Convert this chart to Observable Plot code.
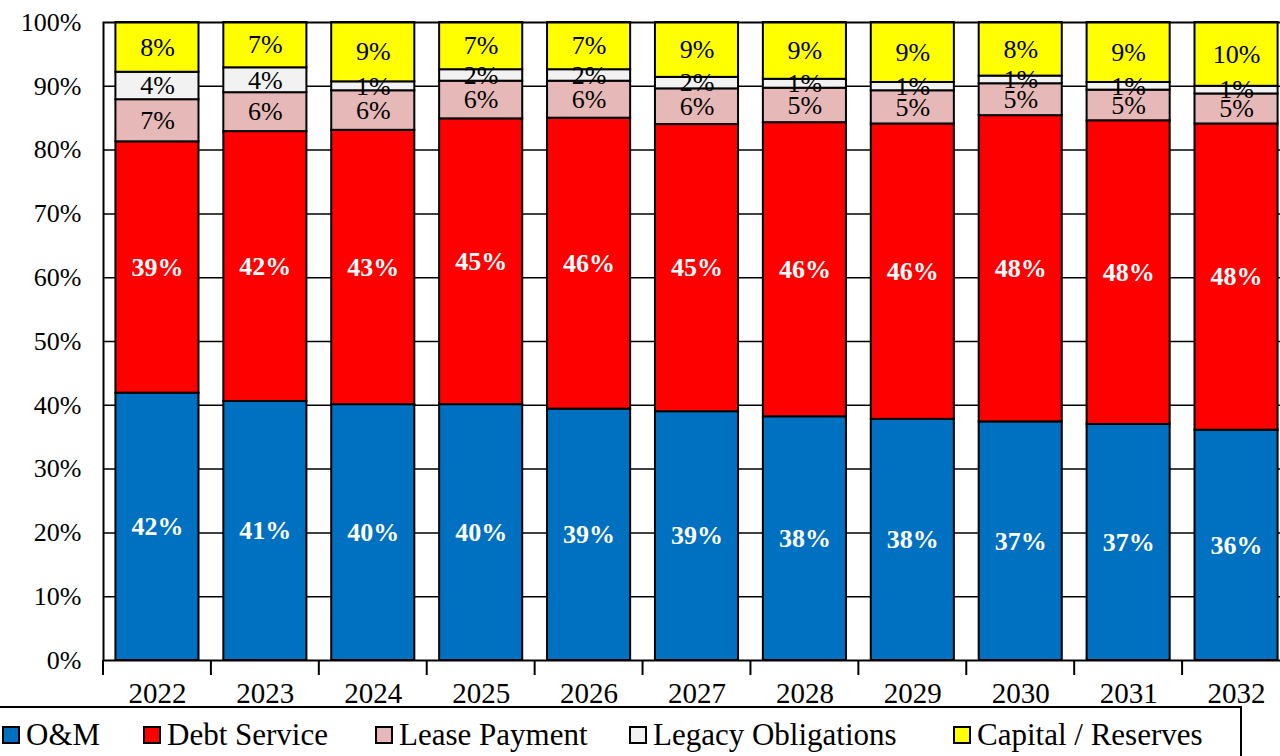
<!DOCTYPE html>
<html><head><meta charset="utf-8">
<script src="https://cdn.jsdelivr.net/npm/d3@7"></script>
<script src="https://cdn.jsdelivr.net/npm/@observablehq/plot@0.6"></script>
<style>
html,body{margin:0;padding:0;background:#fff;overflow:hidden;width:1280px;height:756px;}
#wrap{position:relative;width:1280px;height:756px;overflow:hidden;font-family:"Liberation Serif","Times New Roman",serif;}
#chart{position:absolute;left:0;top:0;width:1292px;}
#chart svg{max-width:none !important;width:1292px !important;height:712px !important;}
#chart svg, #chart svg text{font-family:"Liberation Serif","Times New Roman",serif !important;}
#legend{position:absolute;left:-10px;top:706px;width:1252px;height:80px;border:2px solid #000;box-sizing:border-box;}
.item{position:absolute;top:9px;display:flex;align-items:center;font-size:31px;color:#000;white-space:nowrap;}
.sw{width:14px;height:14px;border:2px solid #000;margin-right:6px;flex:none;}
</style></head>
<body><div id="wrap"><div id="chart"></div><div id="legend"></div></div>
<script>
const years = ["2022","2023","2024","2025","2026","2027","2028","2029","2030","2031","2032"];
const series = ["O&M","Debt Service","Lease Payment","Legacy Obligations","Capital / Reserves"];
const colors = ["#0070C0","#FF0000","#E6B8B7","#F2F2F2","#FFFF00"];
const om      = [41.9,40.6,40.1,40.1,39.4,39.0,38.2,37.8,37.4,37.0,36.1];
const debt    = [39.4,42.3,43.0,44.8,45.6,45.0,46.1,46.3,48.0,47.6,48.0];
const lease   = [6.6,6.1,6.2,5.9,5.8,5.6,5.4,5.2,5.0,4.8,4.7];
const legacy  = [4.3,3.9,1.4,1.8,1.8,1.8,1.4,1.3,1.2,1.2,1.2];
const capital = [7.8,7.1,9.3,7.4,7.4,8.6,8.9,9.4,8.4,9.4,10.0];
const yTicks = [0,10,20,30,40,50,60,70,80,90,100];
const legendLeft = [10,151,383,637,961];

const arrs = [om, debt, lease, legacy, capital];
const data = [];
series.forEach((s, i) => years.forEach((y, j) => data.push({year: y, series: s, value: arrs[i][j]})));
const white = new Set(["O&M","Debt Service"]);
const stack = {x: "year", y: "value", z: "series", order: series};

const boundaryTicks = (index, scales, values, dims) => {
  const g = d3.create("svg:g");
  const x0 = dims.marginLeft, x1 = dims.width - dims.marginRight;
  const yb = dims.height - dims.marginBottom;
  const n = years.length;
  for (let i = 0; i <= n; i++) {
    const xx = x0 + (x1 - x0) * i / n;
    g.append("line").attr("x1", xx).attr("x2", xx).attr("y1", yb).attr("y2", yb + 15)
      .attr("stroke", "black").attr("stroke-width", 2);
  }
  return g.node();
};

const plot = Plot.plot({
  width: 1292, height: 712,
  marginLeft: 103, marginRight: 2, marginTop: 22, marginBottom: 52,
  style: {fontFamily: "Liberation Serif", background: "transparent", color: "black"},
  x: {domain: years, paddingInner: 0.23, paddingOuter: 0.115, round: false, label: null},
  y: {domain: [0, 100], label: null},
  color: {domain: series, range: colors},
  marks: [
    Plot.ruleY(yTicks.slice(1, -1), {stroke: "black", strokeWidth: 1.5}),
    Plot.barY(data, Plot.stackY({...stack, fill: "series", stroke: "black", strokeWidth: 2})),
    Plot.text(data, Plot.stackY({...stack, text: d => white.has(d.series) ? Math.round(d.value) + "%" : null,
      fill: "white", fontWeight: "bold", fontSize: 26})),
    Plot.text(data, Plot.stackY({...stack, text: d => white.has(d.series) ? null : Math.round(d.value) + "%",
      fill: "black", fontSize: 26})),
    Plot.frame({stroke: "black", strokeWidth: 2}),
    boundaryTicks,
    Plot.axisX({tickSize: 0, tickPadding: 22, fontSize: 29}),
    Plot.axisY({ticks: yTicks, tickSize: 0, tickPadding: 22, fontSize: 26, tickFormat: d => d + "%"})
  ]
});
document.getElementById("chart").appendChild(plot);

const legend = document.getElementById("legend");
series.forEach((s, i) => {
  const it = document.createElement("div");
  it.className = "item";
  it.style.left = legendLeft[i] + "px";
  const sw = document.createElement("span");
  sw.className = "sw";
  sw.style.background = colors[i];
  const tx = document.createElement("span");
  tx.textContent = s;
  it.appendChild(sw); it.appendChild(tx);
  legend.appendChild(it);
});
</script>
</body></html>
